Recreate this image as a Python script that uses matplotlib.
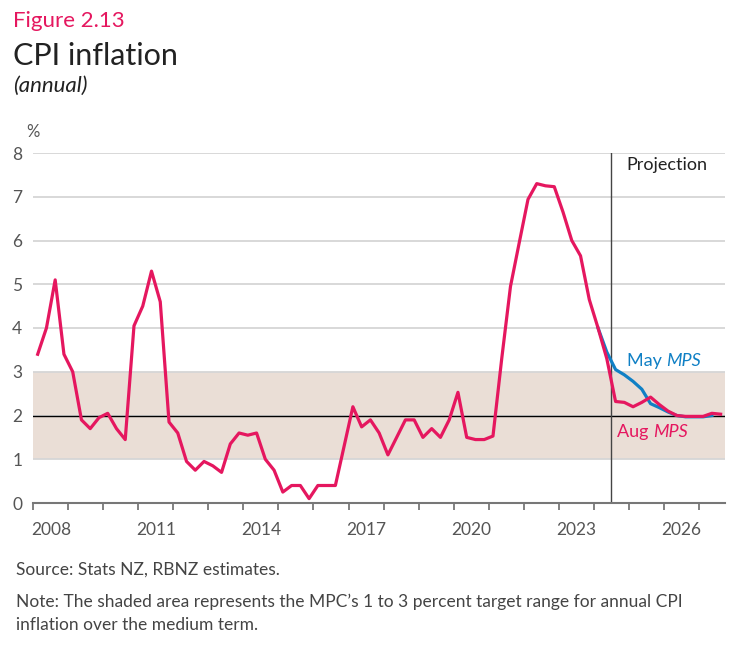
import matplotlib.pyplot as plt
import numpy as np

plt.rcParams['font.family'] = ['Lato', 'DejaVu Sans']

# quarterly annual CPI inflation, 2008 Q1 onwards
start_year = 2008
aug_mps = [3.4, 4.0, 5.1, 3.4,
           3.0, 1.9, 1.7, 1.95,
           2.05, 1.7, 1.45, 4.05,
           4.5, 5.3, 4.6, 1.85,
           1.6, 0.95, 0.75, 0.95,
           0.85, 0.7, 1.35, 1.6,
           1.55, 1.6, 1.0, 0.75,
           0.25, 0.4, 0.4, 0.1,
           0.4, 0.4, 0.4, 1.3,
           2.2, 1.74, 1.9, 1.6,
           1.1, 1.5, 1.9, 1.9,
           1.5, 1.7, 1.5, 1.9,
           2.53, 1.5, 1.45, 1.45,
           1.53, 3.3, 4.95, 5.95,
           6.94, 7.3, 7.25, 7.23,
           6.65, 6.0, 5.65, 4.65,
           4.0, 3.3, 2.32, 2.3,
           2.2, 2.3, 2.42, 2.25,
           2.1, 2.0, 1.98, 1.98,
           1.98, 2.05, 2.03]
# May MPS projection, starting from 2024 Q1
may_start = 64
may_mps = [4.0, 3.45, 3.05, 2.93,
           2.78, 2.6, 2.27, 2.18,
           2.08, 2.0, 1.97, 1.97,
           1.97, 2.0]

target_low, target_mid, target_high = 1, 2, 3
projection_start = 2024.5

pink = '#E5175F'
blue = '#1080C5'

fig = plt.figure(figsize=(7.37, 6.55), dpi=100)
ax = fig.add_axes([33.3/737, 1 - 503/655, (725 - 33.3)/737, 350/655])

x_aug = start_year + (np.arange(len(aug_mps)) + 0.5) / 4
x_may = start_year + (np.arange(may_start, may_start + len(may_mps)) + 0.5) / 4

# target band and grid
ax.axhspan(target_low, target_high, color='#EADED6', lw=0, zorder=0)
for yv in range(1, 9):
    ax.axhline(yv, color='#d6d6d6', lw=1.3, zorder=1)
ax.axhline(target_mid, color='black', lw=1, zorder=2)
ax.axvline(projection_start, color='#444444', lw=1, zorder=2)

ax.plot(x_may, may_mps, color=blue, lw=2.3, zorder=3, solid_joinstyle='round')
ax.plot(x_aug, aug_mps, color=pink, lw=2.3, zorder=4, solid_joinstyle='round')

ax.set_xlim(2008, 2027.75)
ax.set_ylim(0, 8)

for s in ['top', 'right', 'left']:
    ax.spines[s].set_visible(False)
ax.spines['bottom'].set_color('#777777')
ax.spines['bottom'].set_linewidth(1.5)
ax.spines['bottom'].set_zorder(5)

ax.set_yticks(range(0, 9))
ax.tick_params(axis='y', length=0, pad=8, labelsize=12.5, labelcolor='#555555')

years = np.arange(2008, 2028)
ax.set_xticks(years)
ax.set_xticklabels([])
ax.tick_params(axis='x', which='major', length=5, width=1.3, color='#777777')
label_years = np.arange(2008, 2027, 3)
ax.set_xticks(label_years + 0.5, minor=True)
ax.set_xticklabels([str(y) for y in label_years], minor=True)
ax.tick_params(axis='x', which='minor', length=0, pad=14, labelsize=12.5, labelcolor='#555555')

ax.text(2026.1, 7.73, 'Projection', ha='center', va='center', fontsize=13, color='#222222')

t = ax.text(2024.95, 3.06, 'May ', ha='left', va='bottom', fontsize=13, color=blue)
ax.annotate('MPS', xy=(1, 0), xycoords=t, va='bottom', ha='left', fontsize=13,
            color=blue, fontstyle='italic')
t = ax.text(2024.67, 1.45, 'Aug ', ha='left', va='bottom', fontsize=13, color=pink)
ax.annotate('MPS', xy=(1, 0), xycoords=t, va='bottom', ha='left', fontsize=13,
            color=pink, fontstyle='italic')

# titles and notes
fig.text(13/737, 1 - 27/655, 'Figure 2.13', color=pink, fontsize=16, va='baseline')
fig.text(13/737, 1 - 65/655, 'CPI inflation', color='#222222', fontsize=22, va='baseline')
fig.text(13/737, 1 - 92/655, '(annual)', color='#222222', fontsize=16, va='baseline',
         fontstyle='italic')
fig.text(26/737, 1 - 137/655, '%', color='#555555', fontsize=12, va='baseline')

fig.text(16/737, 1 - 575/655, 'Source: Stats NZ, RBNZ estimates.', color='#444444',
         fontsize=12.5, va='baseline')
fig.text(16/737, 1 - 607/655,
         'Note: The shaded area represents the MPC\u2019s 1 to 3 percent target range for annual CPI',
         color='#444444', fontsize=12.5, va='baseline')
fig.text(16/737, 1 - 630/655, 'inflation over the medium term.', color='#444444',
         fontsize=12.5, va='baseline')

fig.savefig('out.png', dpi=100)
